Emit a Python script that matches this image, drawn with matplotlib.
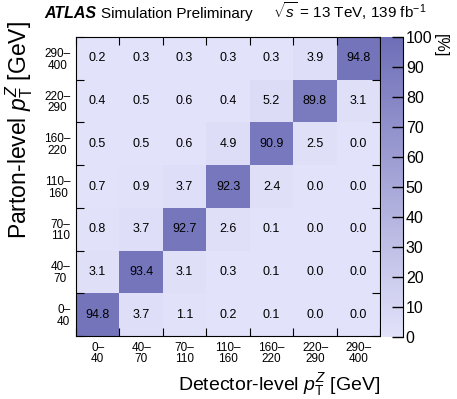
import numpy as np
import matplotlib
matplotlib.use("Agg")
import matplotlib.pyplot as plt
from matplotlib.colors import LinearSegmentedColormap

plt.rcParams['font.family'] = ['Liberation Sans', 'DejaVu Sans']
plt.rcParams['mathtext.fontset'] = 'custom'
plt.rcParams['mathtext.rm'] = 'Liberation Sans'
plt.rcParams['mathtext.it'] = 'Liberation Sans:italic'

# bins (bottom -> top for parton, left -> right for detector)
bin_labels = ["0–\n40", "40–\n70", "70–\n110", "110–\n160", "160–\n220", "220–\n290", "290–\n400"]

# migration matrix [%], rows = parton-level bin (0-40 first), cols = detector-level bin
row_0_40 = [94.8, 3.7, 1.1, 0.2, 0.1, 0.0, 0.0]
row_40_70 = [3.1, 93.4, 3.1, 0.3, 0.1, 0.0, 0.0]
row_70_110 = [0.8, 3.7, 92.7, 2.6, 0.1, 0.0, 0.0]
row_110_160 = [0.7, 0.9, 3.7, 92.3, 2.4, 0.0, 0.0]
row_160_220 = [0.5, 0.5, 0.6, 4.9, 90.9, 2.5, 0.0]
row_220_290 = [0.4, 0.5, 0.6, 0.4, 5.2, 89.8, 3.1]
row_290_400 = [0.2, 0.3, 0.3, 0.3, 0.3, 3.9, 94.8]

matrix = np.array([row_0_40, row_40_70, row_70_110, row_110_160,
                   row_160_220, row_220_290, row_290_400])

cmap = LinearSegmentedColormap.from_list("atlas_blue", ["#e2e2fa", "#6e6eb8"])

fig = plt.figure(figsize=(4.57, 3.99), dpi=100)
ax = fig.add_axes([0.166, 0.158, 0.666, 0.749])
cax = fig.add_axes([0.834, 0.156, 0.048, 0.751])

n = len(bin_labels)
edges = np.arange(n + 1)
mesh = ax.pcolormesh(edges, edges, matrix, cmap=cmap, vmin=0, vmax=100)

for i in range(n):
    for j in range(n):
        ax.text(j + 0.5, i + 0.5, f"{matrix[i, j]:.1f}", ha="center", va="center",
                fontsize=9)

ax.set_xlim(0, n)
ax.set_ylim(0, n)
ax.set_xticks(edges)
ax.set_yticks(edges)
ax.set_xticklabels([])
ax.set_yticklabels([])
ax.set_xticks(np.arange(n) + 0.5, minor=True)
ax.set_yticks(np.arange(n) + 0.5, minor=True)
ax.set_xticklabels(bin_labels, minor=True, fontsize=8.5, linespacing=0.95)
ax.set_yticklabels(bin_labels, minor=True, fontsize=8.5, linespacing=0.95)
ax.tick_params(which="major", direction="in", length=6, top=True, right=True, width=0.8)
ax.tick_params(which="minor", length=0, pad=4)
for lbl in ax.get_yticklabels(minor=True):
    lbl.set_horizontalalignment("right")
    lbl.set_multialignment("center")

ax.set_xlabel(r"Detector-level $p_{\mathrm{T}}^{Z}$ [GeV]", fontsize=14, loc="right")
ax.set_ylabel(r"Parton-level $p_{\mathrm{T}}^{Z}$ [GeV]", fontsize=16.5)
ax.yaxis.set_label_coords(-0.135, 0.69)

cb = fig.colorbar(mesh, cax=cax)
cb.outline.set_visible(False)
cax.spines["right"].set_visible(True)
cax.spines["right"].set_linewidth(0.8)
cb.set_ticks(np.arange(0, 101, 10))
cb.ax.yaxis.set_ticks_position("right")
cb.ax.tick_params(axis="y", which="major", direction="in", length=8, width=1,
                  color="black", right=True, labelsize=11.5, pad=2)
cb.ax.set_axisbelow(False)
cax.text(2.7, 1.01, "[%]", rotation=270, transform=cax.transAxes, ha="center", va="top",
         fontsize=11.5)

fig.text(0.096, 0.955, "ATLAS", fontsize=11.5, fontweight="bold", fontstyle="italic", va="baseline")
fig.text(0.222, 0.955, "Simulation Preliminary", fontsize=11, va="baseline")
fig.text(0.597, 0.955, r"$\sqrt{s}$ = 13 TeV, 139 fb$^{-1}$", fontsize=11, va="baseline")

fig.savefig("out.png", dpi=100)
